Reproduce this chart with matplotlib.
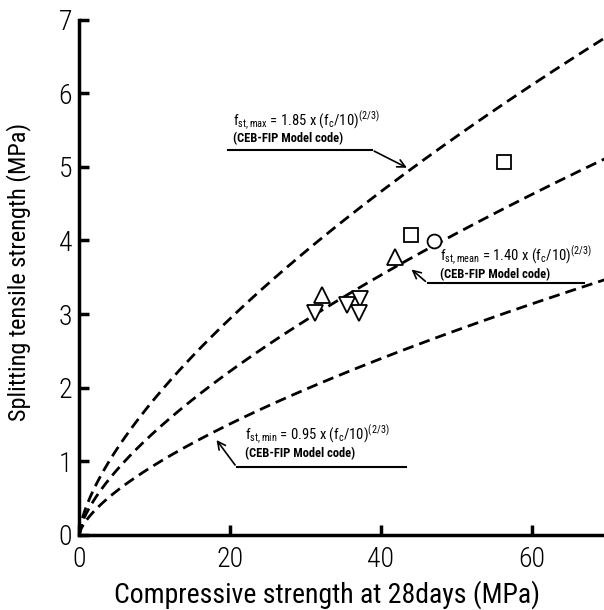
import numpy as np
import matplotlib
matplotlib.use("Agg")
import matplotlib.pyplot as plt

# ==================================
# DATA
# ==================================

# CEB-FIP model code coefficients: f_st = k * (fc/10)^(2/3)
coef_max = 1.85
coef_mean = 1.40
coef_min = 0.95
fc_curve = np.linspace(0, 70, 300)

# test results
square_fc = [44.0, 56.3]
square_fst = [4.07, 5.07]

circle_fc = [47.0]
circle_fst = [3.99]

tri_up_fc = [32.2, 41.9]
tri_up_fst = [3.26, 3.77]

tri_down_fc = [31.3, 35.5, 37.2, 37.1]
tri_down_fst = [3.02, 3.12, 3.20, 3.02]

x_ticks = [0, 20, 40, 60]
y_ticks = [0, 1, 2, 3, 4, 5, 6, 7]

# ==================================
# FONTS
# ==================================

plt.rcParams["font.family"] = ["Roboto Condensed", "DejaVu Sans"]
plt.rcParams["font.weight"] = "light"
plt.rcParams["mathtext.fontset"] = "custom"
plt.rcParams["mathtext.rm"] = "Roboto Condensed"
plt.rcParams["mathtext.it"] = "Roboto Condensed"
plt.rcParams["mathtext.bf"] = "Roboto Condensed:bold"
plt.rcParams["mathtext.default"] = "regular"

# ==================================
# FIGURE
# ==================================

fig = plt.figure(figsize=(6.04, 6.10), dpi=100)
ax = fig.add_axes([0.131, 0.123, 0.874, 0.845])

dash = (0, (4.0, 2.2))
for k in (coef_max, coef_mean, coef_min):
    ax.plot(fc_curve, k * (fc_curve / 10) ** (2 / 3),
            color="black", lw=2.0, linestyle=dash)

mk = dict(linestyle="none", markerfacecolor="white",
          markeredgecolor="black", markeredgewidth=1.3)
ax.plot(square_fc, square_fst, marker="s", markersize=10.5, **mk)
ax.plot(circle_fc, circle_fst, marker="o", markersize=10, **mk)
ax.plot(tri_up_fc, tri_up_fst, marker="^", markersize=12, **mk)
ax.plot(tri_down_fc, tri_down_fst, marker="v", markersize=12, **mk)

ax.set_xlim(0, 70)
ax.set_ylim(0, 7)
ax.set_xticks(x_ticks)
ax.set_yticks(y_ticks)

for s in ("top", "right"):
    ax.spines[s].set_visible(False)
for s in ("left", "bottom"):
    ax.spines[s].set_linewidth(2.5)

ax.tick_params(direction="in", length=7, width=2.5, labelsize=20)
ax.tick_params(axis="x", pad=8)
ax.tick_params(axis="y", pad=5)

ax.set_xlabel("Compressive strength at 28days (MPa)", fontsize=20)
ax.set_ylabel("Splitting tensile strength (MPa)", fontsize=17.5)
ax.xaxis.set_label_coords(0.47, -0.088)
ax.yaxis.set_label_coords(-0.092, 0.51)

# ==================================
# ANNOTATIONS
# ==================================

arrow = dict(arrowstyle="->", color="black", lw=1.2, mutation_scale=14)
line1 = dict(family="Roboto Condensed", fontsize=10.5, fontweight="normal",
             va="center")
line2 = dict(family="Roboto Condensed", fontsize=9, fontweight="bold",
             va="center")

# max
ax.plot([19.7, 38.8], [5.23, 5.23], color="black", lw=1.5)
ax.annotate("", xy=(43.8, 4.97), xytext=(38.8, 5.23), arrowprops=arrow)
ax.text(20.4, 5.62, r"f$_{st,max}$ = 1.85 x (f$_c$/10)$^{(2/3)}$", **line1)
ax.text(20.4, 5.38, "(CEB-FIP Model code)", **line2)

# mean
ax.plot([46.2, 67.0], [3.42, 3.42], color="black", lw=1.5)
ax.annotate("", xy=(43.8, 3.63), xytext=(46.2, 3.42), arrowprops=arrow)
ax.text(47.8, 3.78, r"f$_{st,mean}$ = 1.40 x (f$_c$/10)$^{(2/3)}$", **line1)
ax.text(47.8, 3.54, "(CEB-FIP Model code)", **line2)

# min
ax.plot([20.9, 43.4], [0.92, 0.92], color="black", lw=1.5)
ax.annotate("", xy=(18.0, 1.32), xytext=(20.9, 0.92), arrowprops=arrow)
ax.text(22.0, 1.35, r"f$_{st,min}$ = 0.95 x (f$_c$/10)$^{(2/3)}$", **line1)
ax.text(22.0, 1.10, "(CEB-FIP Model code)", **line2)

fig.savefig("out.png", dpi=100)
plt.close(fig)
